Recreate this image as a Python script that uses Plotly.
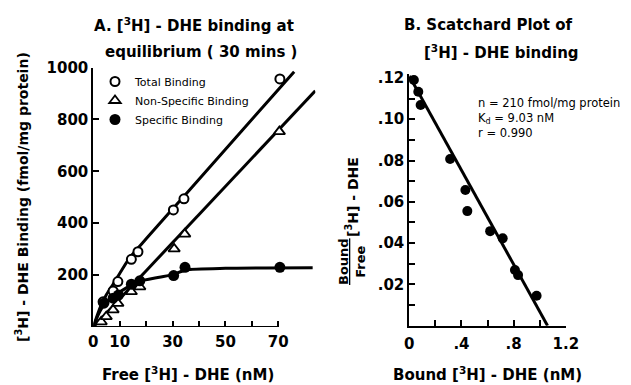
import plotly.graph_objects as go

# ---------------- Panel A data (free [3H]-DHE, nM ; binding fmol/mg protein)
total_x = [3.7, 7.5, 9.3, 14.4, 16.9, 30.3, 34.3, 70.6]
total_y = [97, 139, 175, 261, 290, 451, 494, 956]
ns_x = [3.0, 4.9, 7.5, 9.3, 14.4, 17.6, 30.6, 34.6, 70.4]
ns_y = [20, 40, 66, 91, 136, 155, 301, 358, 753]
spec_x = [4.0, 7.5, 9.5, 14.4, 17.6, 30.4, 34.7, 70.6]
spec_y = [92, 111, 123, 165, 178, 198, 230, 230]

# hand-drawn curves
total_curve_x = [0, 1.5, 3, 5, 7.5, 10.5, 14, 20, 35, 76]
total_curve_y = [0, 45, 85, 125, 165, 215, 270, 340, 512, 984]
ns_curve_x = [0, 84]
ns_curve_y = [0, 910]
spec_curve_x = [0, 2, 4, 7.5, 10, 17, 25, 30, 35, 50, 83]
spec_curve_y = [0, 50, 85, 112, 135, 175, 192, 202, 220, 226, 228]

# ---------------- Panel B data (Scatchard)
bound_x = [0.018, 0.035, 0.069, 0.087, 0.313, 0.43, 0.445, 0.62, 0.716, 0.81, 0.834, 0.976]
bf_y = [0.1247, 0.119, 0.1133, 0.1069, 0.0807, 0.0657, 0.0555, 0.0458, 0.0423, 0.027, 0.0245, 0.0145]
fit_x = [0, 1.06]
fit_y = [0.121, 0]

a_xticks = [0, 10, 20, 30, 40, 50, 60, 70]
a_xticktext = ["0", "10", "", "30", "", "50", "", "70"]
a_yticks = [200, 400, 600, 800, 1000]
b_xticks = [0, 0.2, 0.4, 0.6, 0.8, 1.0, 1.2]
b_xticktext = ["0", "", ".4", "", ".8", "", "1.2"]
b_yticks = [0.01, 0.02, 0.03, 0.04, 0.05, 0.06, 0.07, 0.08, 0.09, 0.10, 0.11, 0.12]
b_yticktext = ["", ".02", "", ".04", "", ".06", "", ".08", "", ".10", "", ".12"]

FONT = "DejaVu Sans"
LW = 3

fig = go.Figure()

# curves
fig.add_trace(go.Scatter(x=total_curve_x, y=total_curve_y, mode="lines", line=dict(color="black", width=LW, shape="spline", smoothing=0.6), showlegend=False, xaxis="x", yaxis="y"))
fig.add_trace(go.Scatter(x=ns_curve_x, y=ns_curve_y, mode="lines", line=dict(color="black", width=LW), showlegend=False, xaxis="x", yaxis="y"))
fig.add_trace(go.Scatter(x=spec_curve_x, y=spec_curve_y, mode="lines", line=dict(color="black", width=LW, shape="spline", smoothing=0.6), showlegend=False, xaxis="x", yaxis="y"))

# points
fig.add_trace(go.Scatter(x=total_x, y=total_y, mode="markers", name="Total Binding",
                         marker=dict(symbol="circle", size=9, color="white", line=dict(color="black", width=2)),
                         cliponaxis=False, xaxis="x", yaxis="y"))
fig.add_trace(go.Scatter(x=ns_x, y=ns_y, mode="markers", name="Non-Specific Binding",
                         marker=dict(symbol="triangle-up", size=10, color="white", line=dict(color="black", width=1.8)),
                         cliponaxis=False, xaxis="x", yaxis="y"))
fig.add_trace(go.Scatter(x=spec_x, y=spec_y, mode="markers", name="Specific Binding",
                         marker=dict(symbol="circle", size=11, color="black"),
                         cliponaxis=False, xaxis="x", yaxis="y"))

# Scatchard
fig.add_trace(go.Scatter(x=fit_x, y=fit_y, mode="lines", line=dict(color="black", width=LW), showlegend=False, xaxis="x2", yaxis="y2"))
fig.add_trace(go.Scatter(x=bound_x, y=bf_y, mode="markers", marker=dict(symbol="circle", size=10, color="black"),
                         showlegend=False, cliponaxis=False, xaxis="x2", yaxis="y2"))

tickfont = dict(family=FONT, size=15, color="black", weight="bold")
common = dict(showgrid=False, zeroline=False, ticks="inside", ticklen=6, tickwidth=2, tickcolor="black",
              tickfont=tickfont, automargin=False)
fig.update_layout(
    width=631, height=385,
    margin=dict(l=0, r=0, t=0, b=0, autoexpand=False),
    paper_bgcolor="white", plot_bgcolor="white",
    font=dict(family=FONT, color="black"),
    hovermode=False,
    xaxis=dict(domain=[93.3 / 631, 315.3 / 631], range=[0, 84], showline=False, ticklabelstandoff=4,
               tickvals=a_xticks, ticktext=a_xticktext, anchor="y", **common),
    yaxis=dict(domain=[58 / 385, 317.5 / 385], range=[0, 1000], showline=True, linewidth=2, linecolor="black",
               tickvals=a_yticks, anchor="x", **common),
    xaxis2=dict(domain=[409.3 / 631, 565.8 / 631], range=[0, 1.2], showline=True, linewidth=2, linecolor="black",
                ticklabelstandoff=3, tickvals=b_xticks, ticktext=b_xticktext, anchor="y2", **common),
    yaxis2=dict(domain=[59.3 / 385, 311.2 / 385], range=[0, 0.122], showline=True, linewidth=2, linecolor="black",
                tickvals=b_yticks, ticktext=b_yticktext, anchor="x2", **common),
    legend=dict(x=95 / 631, y=(385 - 67) / 385, xanchor="left", yanchor="top", bgcolor="rgba(0,0,0,0)",
                font=dict(family=FONT, size=11, color="black"), tracegroupgap=0, itemwidth=30),
)

# x-axis line of panel A stops at 70
fig.add_shape(type="line", xref="x", yref="y", x0=0, x1=70, y0=0, y1=0, line=dict(color="black", width=2))

def ann(text, x, y, size=15, angle=0, xanchor="center", align="center", bold=True):
    fig.add_annotation(text=text, x=x / 631, y=1 - y / 385, xref="paper", yref="paper", showarrow=False,
                       font=dict(family=FONT, size=size, color="black", weight="bold" if bold else "normal"),
                       textangle=angle, xanchor=xanchor, yanchor="middle", align=align)

ann("A. [<sup>3</sup>H] - DHE binding at", 194, 25, 15)
ann("equilibrium ( 30 mins )", 201, 52, 15)
ann("B. Scatchard Plot of", 488, 25, 15)
ann("[<sup>3</sup>H] - DHE binding", 501, 52, 15)
ann("Free [<sup>3</sup>H] - DHE (nM)", 188, 374, 15)
ann("Bound [<sup>3</sup>H] - DHE (nM)", 487, 374, 15)
ann("[<sup>3</sup>H] - DHE Binding (fmol/mg protein)", 22, 197, 14, angle=-90)
ann("<u>Bound</u><br>Free", 352, 262, 13, angle=-90)
ann("[<sup>3</sup>H] - DHE", 352, 197, 14, angle=-90)
ann("n = 210 fmol/mg protein<br>K<sub>d</sub> = 9.03 nM<br>r = 0.990", 476, 118, 11.5, xanchor="left", align="left", bold=False)

fig.write_html("out.html", post_script="document.body.style.margin='0px';",
               config={"displayModeBar": False, "staticPlot": True})
